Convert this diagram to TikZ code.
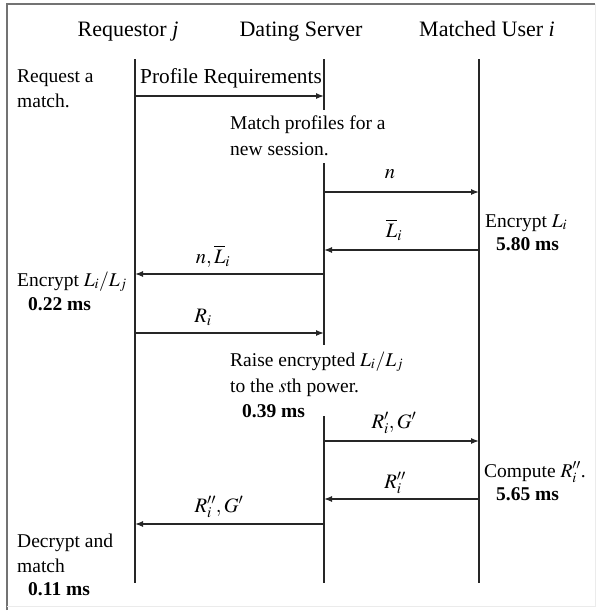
\documentclass[tikz,border=0pt]{standalone}
\usepackage{mathptmx}
\usepackage{fontspec}
\setmainfont{Liberation Serif}
\usetikzlibrary{arrows.meta}
\begin{document}
\begin{tikzpicture}[x=1pt,y=-1pt,
  txt/.style={font=\fontsize{19.5}{24}\selectfont, inner sep=0pt, anchor=base west},
  hdr/.style={font=\fontsize{22}{26}\selectfont, inner sep=0pt, anchor=base},
  lbl/.style={font=\fontsize{20.5}{24}\selectfont, inner sep=0pt, anchor=base},
  life/.style={line width=1.3pt, draw=black!85},
  msg/.style={line width=1.3pt, draw=black!85, -{Latex[length=8pt,width=6pt]}}]
\useasboundingbox (0,0) rectangle (597,611);
% frame
\draw[line width=1.5pt, draw=black!55] (7,610) -- (7,4) -- (595,4);
\draw[line width=0.8pt, draw=black!8] (595,4) -- (595,606) -- (7,606);
% headers
\node[hdr] (hj) at (128,36) {Requestor \textit{j}};
\node[hdr] (hs) at (301,36) {Dating Server};
\node[hdr] (hi) at (487,36) {Matched User \textit{i}};
% lifeline coordinates
\coordinate (jt) at (135,59);  \coordinate (jb) at (135,583);
\coordinate (it) at (479,59);  \coordinate (ib) at (479,583);
\coordinate (s1t) at (324,59); \coordinate (s1b) at (324,110);
\coordinate (s2t) at (324,163); \coordinate (s2b) at (324,345);
\coordinate (s3t) at (324,416); \coordinate (s3b) at (324,583);
\draw[life] (jt) -- (jb);
\draw[life] (it) -- (ib);
\draw[life] (s1t) -- (s1b);
\draw[life] (s2t) -- (s2b);
\draw[life] (s3t) -- (s3b);
% message endpoints
\coordinate (m1a) at (135,96);  \coordinate (m1b) at (324,96);
\coordinate (m2a) at (324,192); \coordinate (m2b) at (479,192);
\coordinate (m3a) at (479,250); \coordinate (m3b) at (324,250);
\coordinate (m4a) at (324,274); \coordinate (m4b) at (135,274);
\coordinate (m5a) at (135,333); \coordinate (m5b) at (324,333);
\coordinate (m6a) at (324,441); \coordinate (m6b) at (479,441);
\coordinate (m7a) at (479,499); \coordinate (m7b) at (324,499);
\coordinate (m8a) at (324,524); \coordinate (m8b) at (135,524);
\draw[msg] (m1a) -- (m1b);
\draw[msg] (m2a) -- (m2b);
\draw[msg] (m3a) -- (m3b);
\draw[msg] (m4a) -- (m4b);
\draw[msg] (m5a) -- (m5b);
\draw[msg] (m6a) -- (m6b);
\draw[msg] (m7a) -- (m7b);
\draw[msg] (m8a) -- (m8b);
% message labels
\node[txt, font=\fontsize{21.3}{25}\selectfont] (l1) at (140,83) {Profile Requirements};
\node[lbl] (l2) at (390,178) {$n$};
\node[lbl] (l3) at (394,237) {$\overline{L}_i$};
\node[lbl] (l4) at (213,263) {$n,\overline{L}_i$};
\node[lbl] (l5) at (203,322) {$R_i$};
\node[lbl] (l6) at (394,428) {$R_i',G'$};
\node[lbl] (l7) at (395,488) {$R_i''$};
\node[lbl] (l8) at (219,512) {$R_i'',G'$};
% notes: requestor
\node[txt] (n1a) at (17,82) {Request a};
\node[txt] (n1b) at (17,107) {match.};
\node[txt] (n2a) at (17,286) {Encrypt $L_i/L_j$};
\node[txt] (n2b) at (28,310) {\textbf{0.22 ms}};
\node[txt] (n3a) at (17,547) {Decrypt and};
\node[txt] (n3b) at (17,572) {match};
\node[txt] (n3c) at (28,595) {\textbf{0.11 ms}};
% notes: server
\node[txt] (s1a) at (230,129) {Match profiles for a};
\node[txt] (s1b') at (230,155) {new session.};
\node[txt] (s2a) at (230,366) {Raise encrypted $L_i/L_j$};
\node[txt] (s2b') at (230,392) {to the $s$th power.};
\node[txt] (s2c) at (242,417) {\textbf{0.39 ms}};
% notes: matched user
\node[txt] (u1a) at (485,227) {Encrypt $L_i$};
\node[txt] (u1b) at (496,250) {\textbf{5.80 ms}};
\node[txt] (u2a) at (484,477) {Compute $R_i''$.};
\node[txt] (u2b) at (496,500) {\textbf{5.65 ms}};
\end{tikzpicture}
\end{document}
